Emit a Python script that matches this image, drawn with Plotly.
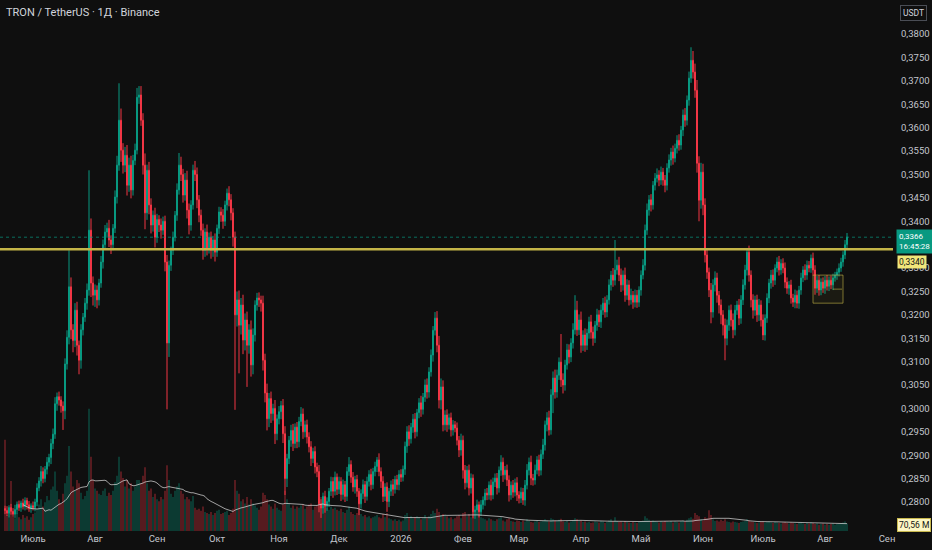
import numpy as np
import pandas as pd
import plotly.graph_objects as go

# daily TRX/USDT candles, first one on 2025-06-17
start_day = "2025-06-17"
first_open = 0.2786

close = [
    0.2782, 0.2776, 0.2788, 0.2780, 0.2774, 0.2784, 0.2795, 0.2788, 0.2798, 0.2790, 0.2803, 0.2794, 0.2786, 0.2792, 0.2788, 0.2800,
    0.2830, 0.2845, 0.2865, 0.2850, 0.2870, 0.2885, 0.2895, 0.2925, 0.2945,
    0.3010, 0.3025, 0.3018, 0.3005, 0.2995, 0.3095, 0.3152,
    0.3260, 0.3168, 0.3145, 0.3210, 0.3135, 0.3103, 0.3168, 0.3195, 0.3225, 0.3253,
    0.3381, 0.3268, 0.3242, 0.3253, 0.3232, 0.3268, 0.3313, 0.3350, 0.3377, 0.3385,
    0.3360, 0.3350, 0.3385, 0.3452, 0.3520, 0.3616, 0.3552, 0.3520, 0.3541, 0.3477,
    0.3520, 0.3467, 0.3530, 0.3552, 0.3665, 0.3670, 0.3616, 0.3520, 0.3418, 0.3509,
    0.3435, 0.3392, 0.3413, 0.3366, 0.3404, 0.3392, 0.3381, 0.3400, 0.3313, 0.3140,
    0.3306, 0.3338, 0.3366, 0.3413, 0.3467, 0.3520, 0.3500, 0.3456, 0.3488, 0.3424,
    0.3392, 0.3435, 0.3509, 0.3500, 0.3446, 0.3413, 0.3381, 0.3338, 0.3377, 0.3343,
    0.3366, 0.3338, 0.3360, 0.3334, 0.3385, 0.3420, 0.3413, 0.3400, 0.3435, 0.3460,
    0.3446, 0.3418, 0.3366, 0.3200, 0.3232, 0.3178, 0.3221, 0.3146, 0.3189, 0.3135,
    0.3168, 0.3093, 0.3157, 0.3221, 0.3236, 0.3232, 0.3225, 0.3103, 0.3033, 0.2978,
    0.3021, 0.2989, 0.3000, 0.2946, 0.2978, 0.2993, 0.3006, 0.2946, 0.2850, 0.2893,
    0.2932, 0.2953, 0.2925, 0.2960, 0.2929, 0.2972, 0.2988, 0.2950, 0.2965, 0.2939,
    0.2918, 0.2893, 0.2908, 0.2875, 0.2865, 0.2796, 0.2787, 0.2812, 0.2791, 0.2801,
    0.2823, 0.2844, 0.2823, 0.2853, 0.2827, 0.2844, 0.2816, 0.2837, 0.2812, 0.2865,
    0.2880, 0.2853, 0.2832, 0.2848, 0.2823, 0.2796, 0.2818, 0.2837, 0.2812, 0.2844,
    0.2859, 0.2837, 0.2865, 0.2876, 0.2890, 0.2865, 0.2844, 0.2812, 0.2832, 0.2801,
    0.2823, 0.2837, 0.2827, 0.2848, 0.2837, 0.2859, 0.2853, 0.2870, 0.2919, 0.2950,
    0.2935, 0.2960, 0.2977, 0.2950, 0.2991, 0.3012, 0.2998, 0.3024, 0.3050, 0.3035,
    0.3078, 0.3114, 0.3167, 0.3193, 0.3135, 0.3018, 0.3046, 0.2965, 0.2986, 0.2965,
    0.2980, 0.2954, 0.2965, 0.2958, 0.2932, 0.2911, 0.2932, 0.2868, 0.2841, 0.2868,
    0.2830, 0.2851, 0.2779, 0.2783, 0.2794, 0.2779, 0.2794, 0.2804, 0.2819, 0.2815,
    0.2836, 0.2815, 0.2843, 0.2851, 0.2830, 0.2868, 0.2885, 0.2858, 0.2868, 0.2847,
    0.2815, 0.2836, 0.2821, 0.2841, 0.2815, 0.2808, 0.2821, 0.2804, 0.2836, 0.2868,
    0.2885, 0.2851, 0.2847, 0.2868, 0.2890, 0.2868, 0.2902, 0.2922, 0.2965, 0.2980,
    0.2954, 0.3029, 0.3065, 0.3035, 0.3071, 0.3099, 0.3061, 0.3050, 0.3093, 0.3125,
    0.3110, 0.3140, 0.3168, 0.3210, 0.3168, 0.3189, 0.3135, 0.3157, 0.3135, 0.3161,
    0.3185, 0.3163, 0.3150, 0.3178, 0.3200, 0.3185, 0.3210, 0.3225, 0.3206, 0.3232,
    0.3264, 0.3285, 0.3274, 0.3296, 0.3306, 0.3285, 0.3264, 0.3285, 0.3242, 0.3264,
    0.3232, 0.3242, 0.3227, 0.3242, 0.3227, 0.3253, 0.3285, 0.3306, 0.3381, 0.3424,
    0.3446, 0.3435, 0.3477, 0.3492, 0.3499, 0.3488, 0.3505, 0.3488, 0.3477, 0.3514,
    0.3531, 0.3548, 0.3535, 0.3556, 0.3573, 0.3563, 0.3595, 0.3627, 0.3616, 0.3659,
    0.3706, 0.3744, 0.3719, 0.3680, 0.3524, 0.3445, 0.3505, 0.3435, 0.3328, 0.3291,
    0.3253, 0.3206, 0.3264, 0.3279, 0.3242, 0.3221, 0.3200, 0.3178, 0.3150, 0.3178,
    0.3210, 0.3189, 0.3168, 0.3210, 0.3221, 0.3193, 0.3232, 0.3264, 0.3296, 0.3334,
    0.3285, 0.3232, 0.3210, 0.3232, 0.3200, 0.3221, 0.3189, 0.3157, 0.3193, 0.3236,
    0.3268, 0.3285, 0.3274, 0.3300, 0.3313, 0.3296, 0.3310, 0.3300, 0.3270, 0.3257,
    0.3264, 0.3236, 0.3227, 0.3242, 0.3225, 0.3253, 0.3279, 0.3296, 0.3285, 0.3306,
    0.3300, 0.3321, 0.3296, 0.3257, 0.3274, 0.3253, 0.3270, 0.3257, 0.3274, 0.3261,
    0.3274, 0.3264, 0.3279, 0.3285, 0.3291, 0.3300, 0.3313, 0.3328, 0.3350, 0.3366,
]

# wick lengths above / below the body, in 0.0001 USDT
wick_up = [
    6, 9, 5, 8, 7, 10, 6, 8, 5, 9, 7, 6, 8, 5, 9, 7,
    10, 8, 12, 9, 7, 11, 8, 10, 12,
    14, 9, 11, 8, 10, 12, 15,
    78, 20, 12, 15, 18, 10, 12, 9, 11, 14,
    128, 25, 14, 12, 10, 9, 13, 11, 15, 12,
    18, 10, 9, 14, 20, 79, 25, 15, 18, 22,
    16, 20, 12, 14, 20, 19, 19, 15, 25, 12,
    18, 14, 10, 16, 12, 9, 14, 10, 12, 15,
    10, 8, 12, 9, 14, 26, 18, 12, 15, 20,
    14, 10, 12, 20, 15, 10, 12, 14, 8, 16,
    10, 12, 9, 14, 8, 11, 10, 13, 9, 10,
    15, 12, 10, 12, 18, 20, 15, 22, 14, 18,
    12, 20, 14, 10, 11, 12, 9, 16, 14, 20,
    12, 15, 10, 18, 9, 12, 10, 14, 16, 10,
    9, 12, 14, 8, 11, 10, 15, 12, 9, 11,
    10, 12, 8, 11, 9, 14, 10, 8, 12, 9,
    7, 10, 9, 12, 8, 10, 9, 11, 8, 10,
    16, 9, 11, 8, 10, 7, 9, 11, 8, 10,
    9, 12, 8, 10, 6, 14, 9, 11, 8, 10,
    7, 9, 12, 8, 10, 9, 11, 8, 10, 12,
    14, 9, 11, 13, 8, 10, 15, 9, 12, 14,
    10, 12, 9, 13, 15, 20, 18, 14, 10, 12,
    9, 11, 10, 8, 12, 9, 14, 10, 11, 9,
    12, 10, 8, 9, 11, 7, 10, 8, 9, 11,
    8, 12, 9, 10, 11, 8, 15, 10, 9, 12,
    10, 8, 11, 9, 12, 8, 10, 9, 11, 13,
    10, 14, 9, 12, 8, 11, 10, 13, 9, 12,
    15, 12, 14, 18, 12, 10, 60, 14, 11, 13,
    12, 10, 14, 32, 20, 12, 18, 10, 14, 9,
    11, 15, 12, 9, 13, 10, 12, 11, 14, 10,
    12, 9, 15, 64, 12, 18, 14, 10, 16, 12,
    10, 14, 9, 12, 11, 8, 10, 13, 12, 14,
    10, 12, 9, 11, 14, 10, 12, 9, 11, 10,
    12, 9, 14, 10, 11, 13, 9, 12, 15, 10,
    14, 28, 20, 18, 22, 15, 20, 18, 14, 12,
    10, 15, 12, 14, 11, 9, 12, 10, 14, 12,
    10, 12, 14, 11, 9, 13, 10, 12, 11, 9,
    14, 10, 12, 9, 11, 13, 10, 12, 8, 10,
    9, 11, 12, 8, 10, 13, 9, 11, 12, 10,
    8, 11, 9, 12, 10, 9, 11, 8, 12, 10,
    9, 8, 12, 10, 9, 11, 8, 10, 9, 11,
    8, 10, 9, 7, 8, 10, 9, 8, 10, 9,
]

wick_dn = [
    8, 6, 9, 7, 5, 8, 10, 7, 9, 6, 8, 10, 7, 9, 6, 8,
    9, 7, 12, 10, 8, 11, 9, 14, 12,
    10, 15, 12, 14, 41, 18, 12,
    15, 20, 25, 14, 22, 30, 18, 12, 10, 14,
    12, 30, 22, 25, 18, 12, 10, 14, 9, 12,
    15, 20, 12, 10, 14, 12, 25, 18, 15, 22,
    14, 18, 12, 10, 9, 14, 12, 20, 35, 15,
    20, 18, 14, 22, 12, 15, 18, 10, 20, 142,
    30, 12, 10, 9, 12, 10, 14, 16, 12, 18,
    20, 12, 10, 14, 18, 15, 12, 20, 14, 16,
    12, 18, 14, 20, 10, 12, 14, 16, 10, 12,
    14, 16, 20, 203, 25, 103, 20, 30, 22, 89,
    18, 25, 20, 14, 12, 15, 18, 22, 20, 25,
    18, 20, 15, 22, 14, 12, 16, 20, 35, 18,
    12, 14, 16, 10, 14, 12, 10, 15, 12, 14,
    12, 16, 10, 14, 12, 18, 21, 12, 14, 10,
    12, 10, 14, 9, 12, 10, 14, 11, 12, 10,
    9, 12, 10, 14, 12, 24, 10, 12, 14, 9,
    11, 12, 9, 10, 12, 10, 14, 12, 10, 22,
    12, 10, 14, 9, 11, 12, 10, 9, 12, 14,
    15, 10, 12, 14, 10, 12, 16, 11, 10, 14,
    12, 10, 14, 11, 15, 18, 20, 14, 12, 15,
    10, 14, 12, 9, 11, 15, 12, 18, 14, 10,
    16, 12, 14, 15, 11, 12, 9, 10, 12, 11,
    10, 12, 9, 11, 14, 10, 12, 15, 10, 13,
    14, 10, 12, 9, 13, 11, 10, 10, 12, 9,
    11, 15, 12, 10, 9, 13, 11, 10, 12, 14,
    12, 10, 39, 14, 12, 10, 15, 18, 12, 10,
    14, 11, 12, 10, 13, 11, 16, 12, 14, 10,
    12, 14, 16, 10, 12, 11, 13, 10, 12, 11,
    10, 12, 14, 11, 10, 13, 15, 12, 14, 10,
    12, 10, 14, 11, 12, 10, 12, 9, 11, 10,
    12, 14, 10, 11, 9, 13, 10, 12, 15, 11,
    10, 12, 14, 9, 11, 12, 10, 13, 14, 11,
    12, 10, 14, 16, 20, 45, 18, 22, 16, 14,
    15, 24, 12, 14, 16, 18, 20, 22, 47, 15,
    12, 14, 18, 12, 10, 15, 12, 11, 10, 12,
    14, 16, 18, 12, 15, 13, 14, 11, 12, 10,
    11, 12, 14, 10, 9, 12, 10, 11, 13, 12,
    14, 12, 10, 13, 11, 12, 10, 9, 11, 10,
    9, 10, 12, 14, 10, 12, 11, 10, 12, 9,
    10, 9, 11, 8, 10, 9, 8, 10, 9, 8,
]

# volume, millions
volume = [
    860, 150, 180, 470, 140, 120, 165, 130, 110, 150, 125, 140, 105, 130, 160, 175,
    210, 250, 300, 230, 270, 330, 290, 390, 420,
    560, 380, 300, 260, 350, 450, 520,
    800, 560, 420, 380, 480, 450, 360, 300, 330, 380,
    1150, 700, 480, 400, 380, 350, 340, 380, 400, 330,
    360, 340, 380, 460, 520, 700, 560, 500, 420, 480,
    400, 450, 380, 420, 480, 480, 450, 520, 600, 450,
    380, 400, 320, 350, 300, 280, 320, 300, 380, 620,
    480, 350, 320, 380, 420, 450, 380, 350, 300, 320,
    300, 280, 330, 220, 200, 210, 190, 230, 180, 170,
    160, 180, 150, 170, 190, 200, 160, 170, 180, 190,
    150, 170, 210, 480, 380, 350, 280, 300, 260, 320,
    250, 300, 260, 240, 220, 200, 230, 360, 340, 300,
    250, 230, 210, 260, 220, 200, 190, 250, 380, 300,
    260, 220, 240, 210, 230, 220, 240, 250, 210, 230,
    250, 260, 200, 230, 240, 340, 320, 260, 240, 220,
    200, 230, 210, 220, 200, 190, 210, 180, 170, 200,
    230, 180, 160, 150, 170, 200, 160, 140, 150, 130,
    140, 120, 130, 140, 150, 130, 120, 160, 130, 170,
    120, 110, 100, 110, 95, 105, 90, 100, 150, 170,
    130, 140, 120, 130, 140, 130, 110, 120, 150, 120,
    140, 160, 190, 170, 210, 180, 150, 160, 150, 140,
    120, 130, 110, 120, 140, 150, 120, 170, 180, 140,
    160, 130, 230, 200, 150, 160, 130, 120, 110, 100,
    120, 110, 100, 95, 110, 120, 130, 100, 90, 110,
    120, 95, 90, 85, 100, 95, 85, 100, 90, 110,
    95, 85, 80, 90, 100, 85, 90, 95, 110, 100,
    90, 120, 110, 100, 95, 105, 115, 90, 85, 95,
    80, 90, 100, 120, 110, 95, 100, 85, 90, 80,
    85, 75, 80, 90, 85, 80, 95, 90, 75, 85,
    100, 110, 90, 130, 95, 85, 90, 80, 95, 85,
    80, 75, 85, 80, 75, 85, 95, 100, 140, 120,
    105, 95, 100, 90, 85, 80, 90, 85, 95, 90,
    85, 95, 80, 90, 85, 80, 95, 100, 90, 105,
    120, 130, 115, 170, 150, 140, 110, 100, 130, 120,
    195, 150, 110, 95, 100, 90, 105, 95, 110, 90,
    85, 80, 90, 85, 80, 75, 85, 90, 95, 110,
    100, 90, 85, 80, 75, 80, 85, 90, 80, 85,
    90, 80, 75, 85, 80, 75, 70, 80, 85, 75,
    70, 80, 75, 70, 65, 75, 80, 70, 65, 75,
    70, 80, 75, 65, 70, 60, 65, 70, 60, 65,
    60, 65, 70, 60, 65, 70, 75, 80, 90, 70.56,
]

month_ticks = ["2025-07-01", "2025-08-01", "2025-09-01", "2025-10-01", "2025-11-01",
               "2025-12-01", "2026-01-01", "2026-02-01", "2026-03-01", "2026-04-01",
               "2026-05-01", "2026-06-01", "2026-07-01", "2026-08-01", "2026-09-01"]
month_labels = ["Июль", "Авг", "Сен", "Окт", "Ноя", "Дек", "2026", "Фев", "Мар",
                "Апр", "Май", "Июн", "Июль", "Авг", "Сен"]

price_ticks = [0.2800, 0.2850, 0.2900, 0.2950, 0.3000, 0.3050, 0.3100, 0.3150, 0.3200, 0.3250,
               0.3300, 0.3350, 0.3400, 0.3450, 0.3500, 0.3550, 0.3600, 0.3650, 0.3700, 0.3750, 0.3800]

level_price = 0.3340
last_price = 0.3366

df = pd.DataFrame({"close": close, "up": wick_up, "dn": wick_dn, "vol": volume})
df["date"] = pd.date_range(start_day, periods=len(df), freq="D")
df["open"] = [first_open] + close[:-1]
body_top = df[["open", "close"]].max(axis=1)
body_bot = df[["open", "close"]].min(axis=1)
df["high"] = body_top + df["up"] / 10000
df["low"] = body_bot - df["dn"] / 10000
df["vol_ma"] = df["vol"].rolling(20, min_periods=10).mean()

green = "#089981"
red = "#f23645"
bg = "#0f0f0f"
txt = "#c3c6cd"

vol_colors = np.where(df["close"] >= df["open"], "rgba(8,153,129,0.42)", "rgba(242,54,69,0.42)")

fig = go.Figure()
fig.add_trace(go.Bar(
    x=df["date"], y=df["vol"], marker_color=vol_colors, marker_line_width=0,
    width=0.75 * 86400000, yaxis="y2", hoverinfo="skip",
))
fig.add_trace(go.Scatter(
    x=df["date"], y=df["vol_ma"], mode="lines", yaxis="y2",
    line=dict(color="rgba(210,210,210,0.75)", width=1), hoverinfo="skip",
))
fig.add_trace(go.Candlestick(
    x=df["date"], open=df["open"], high=df["high"], low=df["low"], close=df["close"],
    increasing=dict(line=dict(color=green, width=1), fillcolor=green),
    decreasing=dict(line=dict(color=red, width=1), fillcolor=red),
    whiskerwidth=0,
))

fig.update_layout(
    width=932, height=550,
    margin=dict(l=0, r=39, t=0, b=19),
    paper_bgcolor=bg, plot_bgcolor=bg,
    showlegend=False,
    separators=", ",
    font=dict(family="Roboto", size=10, color=txt),
    xaxis=dict(
        type="date", range=["2025-06-14 12:00", "2026-09-04"],
        showgrid=False, zeroline=False, showline=False,
        tickvals=month_ticks, ticktext=month_labels, ticks="",
        rangeslider=dict(visible=False),
        tickfont=dict(size=9.5, color=txt),
    ),
    yaxis=dict(
        side="right", range=[0.2738, 0.3873], tickvals=price_ticks,
        tickformat=".4f", showgrid=False, zeroline=False, showline=False,
        ticks="", ticklabelstandoff=7, tickfont=dict(size=9.5, color=txt),
    ),
    yaxis2=dict(overlaying="y", range=[0, 5000], visible=False),
    shapes=[
        dict(type="line", xref="paper", x0=0, x1=1, yref="y", y0=last_price, y1=last_price,
             line=dict(color="rgba(8,153,129,0.7)", width=1, dash="dot")),
        dict(type="line", xref="paper", x0=0, x1=1, yref="y", y0=level_price, y1=level_price,
             line=dict(color="#c4b548", width=2.5)),
        dict(type="rect", xref="x", x0="2026-07-26", x1="2026-08-10", yref="y", y0=0.3225, y1=0.3285,
             line=dict(color="rgba(196,181,72,0.6)", width=1), fillcolor="rgba(196,181,72,0.07)"),
        dict(type="line", xref="x", x0="2026-08-05", x1="2026-08-10", yref="y", y0=0.3255, y1=0.3255,
             line=dict(color="rgba(196,181,72,0.6)", width=1, dash="dash")),
    ],
    annotations=[
        dict(text="TRON / TetherUS · 1Д · Binance", xref="paper", yref="paper", x=0, y=1,
             xanchor="left", yanchor="top", xshift=4, yshift=-4, showarrow=False,
             font=dict(size=11, color="#d1d4dc")),
        dict(text="USDT", xref="paper", yref="paper", x=1, y=1, xanchor="left", yanchor="top",
             xshift=7, yshift=-5, showarrow=False, font=dict(size=8.5, color="#d1d4dc"),
             bgcolor=bg, bordercolor="#4a4d55", borderwidth=1, borderpad=2),
        dict(text="0,3366<br>16:45:28", xref="paper", yref="y", x=1, y=last_price,
             xanchor="left", yanchor="top", xshift=3, yshift=8, showarrow=False, align="left",
             font=dict(size=8, color="#ffffff"), bgcolor=green, borderpad=2),
        dict(text="0,3340", xref="paper", yref="y", x=1, y=level_price,
             xanchor="left", yanchor="top", xshift=4, yshift=-6, showarrow=False,
             font=dict(size=8.5, color="#131313"), bgcolor="#f0e67a", borderpad=1),
        dict(text="70,56 M", xref="paper", yref="paper", x=1, y=0.012,
             xanchor="left", yanchor="middle", xshift=4, showarrow=False,
             font=dict(size=8.5, color="#131313"), bgcolor="#fdf6c3", bordercolor="#c9b94e",
             borderwidth=1, borderpad=1),
    ],
)

# the page's default body margin would shift the chart, drop it
fig.write_html(
    "out.html",
    config={"displayModeBar": False},
    post_script="document.body.style.margin='0';document.body.style.background='#0f0f0f';",
)
